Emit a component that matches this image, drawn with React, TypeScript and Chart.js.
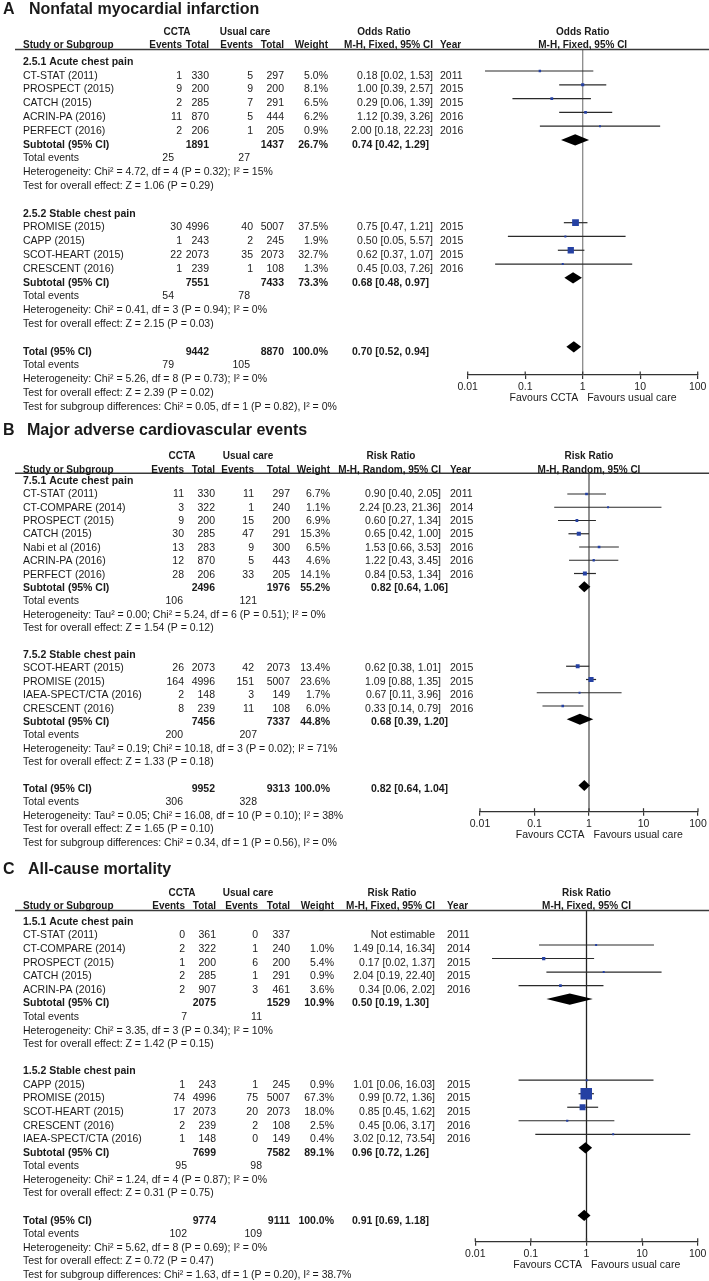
import React, { useEffect, useRef } from "react";
import { Chart, registerables } from "chart.js";
Chart.register(...registerables);

// ---------------- Panel A: Nonfatal myocardial infarction ----------------
const A_study = ["CT-STAT (2011)", "PROSPECT (2015)", "CATCH (2015)", "ACRIN-PA (2016)", "PERFECT (2016)", "PROMISE (2015)", "CAPP (2015)", "SCOT-HEART (2015)", "CRESCENT (2016)"];
const A_group = [0, 0, 0, 0, 0, 1, 1, 1, 1];
const A_ev1 = [1, 9, 2, 11, 2, 30, 1, 22, 1];
const A_tot1 = [330, 200, 285, 870, 206, 4996, 243, 2073, 239];
const A_ev2 = [5, 9, 7, 5, 1, 40, 2, 35, 1];
const A_tot2 = [297, 200, 291, 444, 205, 5007, 245, 2073, 108];
const A_weight = [5.0, 8.1, 6.5, 6.2, 0.9, 37.5, 1.9, 32.7, 1.3];
const A_est = [0.18, 1.0, 0.29, 1.12, 2.0, 0.75, 0.5, 0.62, 0.45];
const A_lo = [0.02, 0.39, 0.06, 0.39, 0.18, 0.47, 0.05, 0.37, 0.03];
const A_hi = [1.53, 2.57, 1.39, 3.26, 22.23, 1.21, 5.57, 1.07, 7.26];
const A_year = [2011, 2015, 2015, 2016, 2016, 2015, 2015, 2015, 2016];
const A_subgroup = ["2.5.1 Acute chest pain", "2.5.2 Stable chest pain"];
const A_subTot1 = [1891, 7551];
const A_subTot2 = [1437, 7433];
const A_subWeight = [26.7, 73.3];
const A_subEst = [0.74, 0.68];
const A_subLo = [0.42, 0.48];
const A_subHi = [1.29, 0.97];
const A_subEv1 = [25, 54];
const A_subEv2 = [27, 78];
const A_subHet = ["Heterogeneity: Chi² = 4.72, df = 4 (P = 0.32); I² = 15%", "Heterogeneity: Chi² = 0.41, df = 3 (P = 0.94); I² = 0%"];
const A_subZ = ["Test for overall effect: Z = 1.06 (P = 0.29)", "Test for overall effect: Z = 2.15 (P = 0.03)"];
const A_totN = [9442, 8870];
const A_totCI = [0.7, 0.52, 0.94];
const A_totEv = [79, 105];
const A_totNotes = ["Heterogeneity: Chi² = 5.26, df = 8 (P = 0.73); I² = 0%", "Test for overall effect: Z = 2.39 (P = 0.02)", "Test for subgroup differences: Chi² = 0.05, df = 1 (P = 0.82), I² = 0%"];

// ---------------- Panel B: Major adverse cardiovascular events ----------------
const B_study = ["CT-STAT (2011)", "CT-COMPARE (2014)", "PROSPECT (2015)", "CATCH (2015)", "Nabi et al (2016)", "ACRIN-PA (2016)", "PERFECT (2016)", "SCOT-HEART (2015)", "PROMISE (2015)", "IAEA-SPECT/CTA (2016)", "CRESCENT (2016)"];
const B_group = [0, 0, 0, 0, 0, 0, 0, 1, 1, 1, 1];
const B_ev1 = [11, 3, 9, 30, 13, 12, 28, 26, 164, 2, 8];
const B_tot1 = [330, 322, 200, 285, 283, 870, 206, 2073, 4996, 148, 239];
const B_ev2 = [11, 1, 15, 47, 9, 5, 33, 42, 151, 3, 11];
const B_tot2 = [297, 240, 200, 291, 300, 443, 205, 2073, 5007, 149, 108];
const B_weight = [6.7, 1.1, 6.9, 15.3, 6.5, 4.6, 14.1, 13.4, 23.6, 1.7, 6.0];
const B_est = [0.9, 2.24, 0.6, 0.65, 1.53, 1.22, 0.84, 0.62, 1.09, 0.67, 0.33];
const B_lo = [0.4, 0.23, 0.27, 0.42, 0.66, 0.43, 0.53, 0.38, 0.88, 0.11, 0.14];
const B_hi = [2.05, 21.36, 1.34, 1.0, 3.53, 3.45, 1.34, 1.01, 1.35, 3.96, 0.79];
const B_year = [2011, 2014, 2015, 2015, 2016, 2016, 2016, 2015, 2015, 2016, 2016];
const B_subgroup = ["7.5.1 Acute chest pain", "7.5.2 Stable chest pain"];
const B_subTot1 = [2496, 7456];
const B_subTot2 = [1976, 7337];
const B_subWeight = [55.2, 44.8];
const B_subEst = [0.82, 0.68];
const B_subLo = [0.64, 0.39];
const B_subHi = [1.06, 1.2];
const B_subEv1 = [106, 200];
const B_subEv2 = [121, 207];
const B_subHet = ["Heterogeneity: Tau² = 0.00; Chi² = 5.24, df = 6 (P = 0.51); I² = 0%", "Heterogeneity: Tau² = 0.19; Chi² = 10.18, df = 3 (P = 0.02); I² = 71%"];
const B_subZ = ["Test for overall effect: Z = 1.54 (P = 0.12)", "Test for overall effect: Z = 1.33 (P = 0.18)"];
const B_totN = [9952, 9313];
const B_totCI = [0.82, 0.64, 1.04];
const B_totEv = [306, 328];
const B_totNotes = ["Heterogeneity: Tau² = 0.05; Chi² = 16.08, df = 10 (P = 0.10); I² = 38%", "Test for overall effect: Z = 1.65 (P = 0.10)", "Test for subgroup differences: Chi² = 0.34, df = 1 (P = 0.56), I² = 0%"];

// ---------------- Panel C: All-cause mortality ----------------
const C_study = ["CT-STAT (2011)", "CT-COMPARE (2014)", "PROSPECT (2015)", "CATCH (2015)", "ACRIN-PA (2016)", "CAPP (2015)", "PROMISE (2015)", "SCOT-HEART (2015)", "CRESCENT (2016)", "IAEA-SPECT/CTA (2016)"];
const C_group = [0, 0, 0, 0, 0, 1, 1, 1, 1, 1];
const C_ev1 = [0, 2, 1, 2, 2, 1, 74, 17, 2, 1];
const C_tot1 = [361, 322, 200, 285, 907, 243, 4996, 2073, 239, 148];
const C_ev2 = [0, 1, 6, 1, 3, 1, 75, 20, 2, 0];
const C_tot2 = [337, 240, 200, 291, 461, 245, 5007, 2073, 108, 149];
const C_weight = [null, 1.0, 5.4, 0.9, 3.6, 0.9, 67.3, 18.0, 2.5, 0.4];
const C_est = [null, 1.49, 0.17, 2.04, 0.34, 1.01, 0.99, 0.85, 0.45, 3.02];
const C_lo = [null, 0.14, 0.02, 0.19, 0.06, 0.06, 0.72, 0.45, 0.06, 0.12];
const C_hi = [null, 16.34, 1.37, 22.4, 2.02, 16.03, 1.36, 1.62, 3.17, 73.54];
const C_year = [2011, 2014, 2015, 2015, 2016, 2015, 2015, 2015, 2016, 2016];
const C_subgroup = ["1.5.1 Acute chest pain", "1.5.2 Stable chest pain"];
const C_subTot1 = [2075, 7699];
const C_subTot2 = [1529, 7582];
const C_subWeight = [10.9, 89.1];
const C_subEst = [0.5, 0.96];
const C_subLo = [0.19, 0.72];
const C_subHi = [1.3, 1.26];
const C_subEv1 = [7, 95];
const C_subEv2 = [11, 98];
const C_subHet = ["Heterogeneity: Chi² = 3.35, df = 3 (P = 0.34); I² = 10%", "Heterogeneity: Chi² = 1.24, df = 4 (P = 0.87); I² = 0%"];
const C_subZ = ["Test for overall effect: Z = 1.42 (P = 0.15)", "Test for overall effect: Z = 0.31 (P = 0.75)"];
const C_totN = [9774, 9111];
const C_totCI = [0.91, 0.69, 1.18];
const C_totEv = [102, 109];
const C_totNotes = ["Heterogeneity: Chi² = 5.62, df = 8 (P = 0.69); I² = 0%", "Test for overall effect: Z = 0.72 (P = 0.47)", "Test for subgroup differences: Chi² = 1.63, df = 1 (P = 0.20), I² = 38.7%"];

const X_TICKS = [0.01, 0.1, 1, 10, 100];

// ---------------- layout / style (kept apart from data) ----------------
const FONT = '"Liberation Sans", Arial, Helvetica, sans-serif';
const TXT = "#1a1a1a";
const BLUE = "#2541a3";
const AXIS_H = 30;
const FS = 10.5;
const HFS = 10;

const LAYOUT_A = {
  top: 0, height: 422, letter: "A", title: "Nonfatal myocardial infarction", titleX: 29, titleY: 10,
  h1Y: 32, h2Y: 45.7, lineY: 49.5, t0: 62, ts: 13.8, m0: 57.2, ms: 13.79, axisY: 375,
  xL: 467.7, xR: 697.7, boxK: 1.1, refColor: "#8a8a8a",
  effect: "Odds Ratio", method: "M-H, Fixed, 95% CI",
  cols: { ev1: 182, tot1: 209, ev2: 253, tot2: 284, w: 328, ciR: 433, ciL: 352, yearL: 440, te1: 174, te2: 250, cctaC: 177, ucC: 245, effC: 384 },
};
const LAYOUT_B = {
  top: 422, height: 428, letter: "B", title: "Major adverse cardiovascular events", titleX: 27, titleY: 431,
  h1Y: 456, h2Y: 470, lineY: 473.3, t0: 481, ts: 13.4, m0: 480.75, ms: 13.25, axisY: 811.7,
  xL: 480, xR: 698, boxK: 1.05, refColor: "#555",
  effect: "Risk Ratio", method: "M-H, Random, 95% CI",
  cols: { ev1: 184, tot1: 215, ev2: 254, tot2: 290, w: 330, ciR: 441, ciL: 371, yearL: 450, te1: 183, te2: 257, cctaC: 182, ucC: 248, effC: 391 },
};
const LAYOUT_C = {
  top: 850, height: 431, letter: "C", title: "All-cause mortality", titleX: 28, titleY: 870,
  h1Y: 893.3, h2Y: 906.7, lineY: 910.5, t0: 922, ts: 13.58, m0: 917.96, ms: 13.52, axisY: 1241.7,
  xL: 475.3, xR: 697.7, boxK: 1.4, refColor: "#222",
  effect: "Risk Ratio", method: "M-H, Fixed, 95% CI",
  cols: { ev1: 185, tot1: 216, ev2: 258, tot2: 290, w: 334, ciR: 435, ciL: 352, yearL: 447, te1: 187, te2: 262, cctaC: 182, ucC: 248, effC: 392 },
};

const fmtCI = (e: number, l: number, h: number) => `${e.toFixed(2)} [${l.toFixed(2)}, ${h.toFixed(2)}]`;

function makeData(p: string) {
  const src: any = {
    A: { study: A_study, group: A_group, ev1: A_ev1, tot1: A_tot1, ev2: A_ev2, tot2: A_tot2, weight: A_weight, est: A_est, lo: A_lo, hi: A_hi, year: A_year, subgroup: A_subgroup, subTot1: A_subTot1, subTot2: A_subTot2, subWeight: A_subWeight, subEst: A_subEst, subLo: A_subLo, subHi: A_subHi, subEv1: A_subEv1, subEv2: A_subEv2, subHet: A_subHet, subZ: A_subZ, totN: A_totN, totCI: A_totCI, totEv: A_totEv, totNotes: A_totNotes },
    B: { study: B_study, group: B_group, ev1: B_ev1, tot1: B_tot1, ev2: B_ev2, tot2: B_tot2, weight: B_weight, est: B_est, lo: B_lo, hi: B_hi, year: B_year, subgroup: B_subgroup, subTot1: B_subTot1, subTot2: B_subTot2, subWeight: B_subWeight, subEst: B_subEst, subLo: B_subLo, subHi: B_subHi, subEv1: B_subEv1, subEv2: B_subEv2, subHet: B_subHet, subZ: B_subZ, totN: B_totN, totCI: B_totCI, totEv: B_totEv, totNotes: B_totNotes },
    C: { study: C_study, group: C_group, ev1: C_ev1, tot1: C_tot1, ev2: C_ev2, tot2: C_tot2, weight: C_weight, est: C_est, lo: C_lo, hi: C_hi, year: C_year, subgroup: C_subgroup, subTot1: C_subTot1, subTot2: C_subTot2, subWeight: C_subWeight, subEst: C_subEst, subLo: C_subLo, subHi: C_subHi, subEv1: C_subEv1, subEv2: C_subEv2, subHet: C_subHet, subZ: C_subZ, totN: C_totN, totCI: C_totCI, totEv: C_totEv, totNotes: C_totNotes },
  };
  return src[p];
}

function buildRows(d: any) {
  const items: any[] = [];
  let r = 0;
  for (let g = 0; g < d.subgroup.length; g++) {
    items.push({ kind: "heading", row: r++, text: d.subgroup[g] });
    d.study.forEach((_: string, i: number) => {
      if (d.group[i] === g) items.push({ kind: "study", row: r++, i });
    });
    items.push({ kind: "subtotal", row: r++, g });
    items.push({ kind: "events", row: r++, a: d.subEv1[g], b: d.subEv2[g] });
    items.push({ kind: "note", row: r++, text: d.subHet[g] });
    items.push({ kind: "note", row: r++, text: d.subZ[g] });
    r++;
  }
  items.push({ kind: "total", row: r++ });
  items.push({ kind: "events", row: r++, a: d.totEv[0], b: d.totEv[1] });
  d.totNotes.forEach((t: string) => items.push({ kind: "note", row: r++, text: t }));
  return items;
}

function Panel({ id, L }: { id: string; L: any }) {
  const ref = useRef<HTMLCanvasElement>(null);
  useEffect(() => {
    const canvas = ref.current as HTMLCanvasElement;
    const d = makeData(id);
    const items = buildRows(d);
    const c = L.cols;

    const pts: any[] = [];
    const radii: number[] = [];
    items.forEach((it) => {
      if (it.kind === "study" && d.est[it.i] != null) {
        pts.push({ x: d.est[it.i], y: it.row });
        const side = Math.max(2, L.boxK * Math.sqrt(d.weight[it.i]));
        radii.push(side / Math.SQRT2);
      }
    });

    const plugin = {
      id: "forest" + id,
      beforeDatasetsDraw(chart: any) {
        const { ctx, chartArea } = chart;
        const xs = chart.scales.x;
        const ys = chart.scales.y;
        ctx.save();
        const x1 = xs.getPixelForValue(1);
        ctx.strokeStyle = L.refColor;
        ctx.lineWidth = 1.3;
        ctx.beginPath();
        ctx.moveTo(x1, chartArea.top);
        ctx.lineTo(x1, chartArea.bottom);
        ctx.stroke();
        ctx.strokeStyle = "#2a2a2a";
        ctx.lineWidth = 1.2;
        items.forEach((it) => {
          if (it.kind !== "study" || d.est[it.i] == null) return;
          const y = ys.getPixelForValue(it.row);
          ctx.beginPath();
          ctx.moveTo(xs.getPixelForValue(d.lo[it.i]), y);
          ctx.lineTo(xs.getPixelForValue(d.hi[it.i]), y);
          ctx.stroke();
        });
        ctx.restore();
      },
      afterDatasetsDraw(chart: any) {
        const { ctx } = chart;
        const xs = chart.scales.x;
        const ys = chart.scales.y;
        const top = L.top;
        ctx.save();
        const diamond = (row: number, e: number, lo: number, hi: number) => {
          const y = ys.getPixelForValue(row);
          ctx.fillStyle = "#000";
          ctx.beginPath();
          ctx.moveTo(xs.getPixelForValue(lo), y);
          ctx.lineTo(xs.getPixelForValue(e), y - 5.6);
          ctx.lineTo(xs.getPixelForValue(hi), y);
          ctx.lineTo(xs.getPixelForValue(e), y + 5.6);
          ctx.closePath();
          ctx.fill();
        };
        items.forEach((it) => {
          if (it.kind === "subtotal") diamond(it.row, d.subEst[it.g], d.subLo[it.g], d.subHi[it.g]);
          if (it.kind === "total") diamond(it.row, d.totCI[0], d.totCI[1], d.totCI[2]);
        });
        ctx.strokeStyle = "#3a3a3a";
        ctx.lineWidth = 1.5;
        ctx.beginPath();
        ctx.moveTo(15, L.lineY - top);
        ctx.lineTo(709, L.lineY - top);
        ctx.stroke();
        ctx.strokeStyle = "#333";
        ctx.lineWidth = 1.2;
        X_TICKS.forEach((v) => {
          const xp = xs.getPixelForValue(v);
          ctx.beginPath();
          ctx.moveTo(xp, L.axisY - top - 3.5);
          ctx.lineTo(xp, L.axisY - top);
          ctx.stroke();
        });

        const txt = (s: string, x: number, yAbs: number, align: string, bold = false, size = FS) => {
          ctx.font = `${bold ? "bold " : ""}${size}px ${FONT}`;
          ctx.textAlign = align;
          ctx.textBaseline = "middle";
          ctx.fillStyle = TXT;
          ctx.fillText(s, x, yAbs - top);
        };
        txt(L.letter, 3, L.titleY, "left", true, 16);
        txt(L.title, L.titleX, L.titleY, "left", true, 16);
        const x1 = xs.getPixelForValue(1);
        txt("CCTA", c.cctaC, L.h1Y, "center", true, HFS);
        txt("Usual care", c.ucC, L.h1Y, "center", true, HFS);
        txt(L.effect, c.effC, L.h1Y, "center", true, HFS);
        txt(L.effect, x1, L.h1Y, "center", true, HFS);
        txt("Study or Subgroup", 23, L.h2Y, "left", true, HFS);
        txt("Events", c.ev1, L.h2Y, "right", true, HFS);
        txt("Total", c.tot1, L.h2Y, "right", true, HFS);
        txt("Events", c.ev2, L.h2Y, "right", true, HFS);
        txt("Total", c.tot2, L.h2Y, "right", true, HFS);
        txt("Weight", c.w, L.h2Y, "right", true, HFS);
        txt(L.method, c.ciR, L.h2Y, "right", true, HFS);
        txt("Year", c.yearL, L.h2Y, "left", true, HFS);
        txt(L.method, x1, L.h2Y, "center", true, HFS);
        items.forEach((it) => {
          const ty = L.t0 + it.row * L.ts;
          if (it.kind === "heading") txt(it.text, 23, ty, "left", true);
          else if (it.kind === "study") {
            const i = it.i;
            txt(d.study[i], 23, ty, "left");
            txt(String(d.ev1[i]), c.ev1, ty, "right");
            txt(String(d.tot1[i]), c.tot1, ty, "right");
            txt(String(d.ev2[i]), c.ev2, ty, "right");
            txt(String(d.tot2[i]), c.tot2, ty, "right");
            if (d.weight[i] != null) txt(d.weight[i].toFixed(1) + "%", c.w, ty, "right");
            txt(d.est[i] != null ? fmtCI(d.est[i], d.lo[i], d.hi[i]) : "Not estimable", c.ciR, ty, "right");
            txt(String(d.year[i]), c.yearL, ty, "left");
          } else if (it.kind === "subtotal") {
            const g = it.g;
            txt("Subtotal (95% CI)", 23, ty, "left", true);
            txt(String(d.subTot1[g]), c.tot1, ty, "right", true);
            txt(String(d.subTot2[g]), c.tot2, ty, "right", true);
            txt(d.subWeight[g].toFixed(1) + "%", c.w, ty, "right", true);
            txt(fmtCI(d.subEst[g], d.subLo[g], d.subHi[g]), c.ciL, ty, "left", true);
          } else if (it.kind === "total") {
            txt("Total (95% CI)", 23, ty, "left", true);
            txt(String(d.totN[0]), c.tot1, ty, "right", true);
            txt(String(d.totN[1]), c.tot2, ty, "right", true);
            txt("100.0%", c.w, ty, "right", true);
            txt(fmtCI(d.totCI[0], d.totCI[1], d.totCI[2]), c.ciL, ty, "left", true);
          } else if (it.kind === "events") {
            txt("Total events", 23, ty, "left");
            txt(String(it.a), c.te1, ty, "right");
            txt(String(it.b), c.te2, ty, "right");
          } else if (it.kind === "note") {
            txt(it.text, 23, ty, "left");
          }
        });
        txt("Favours CCTA", x1 - 4.5, L.axisY + 23, "right");
        txt("Favours usual care", x1 + 4.5, L.axisY + 23, "left");
        ctx.restore();
      },
    };

    const chart = new Chart(canvas, {
      type: "scatter",
      data: {
        datasets: [
          {
            data: pts,
            pointStyle: "rect",
            pointRadius: radii,
            pointHoverRadius: radii,
            backgroundColor: BLUE,
            borderColor: BLUE,
            borderWidth: 0,
          } as any,
        ],
      },
      options: {
        responsive: false,
        animation: false,
        devicePixelRatio: 1,
        events: [],
        layout: {
          padding: {
            left: L.xL,
            right: 709 - L.xR,
            top: L.lineY - L.top,
            bottom: L.height - (L.axisY - L.top) - AXIS_H,
          },
        },
        plugins: { legend: { display: false }, tooltip: { enabled: false } },
        scales: {
          x: {
            type: "logarithmic",
            min: 0.01,
            max: 100,
            position: "bottom",
            afterBuildTicks: (s: any) => {
              s.ticks = X_TICKS.map((v) => ({ value: v }));
            },
            afterFit: (s: any) => {
              s.height = AXIS_H;
            },
            ticks: {
              callback: (v: any) => String(v),
              font: { family: FONT, size: FS },
              color: "#222",
              padding: 2,
              maxRotation: 0,
              autoSkip: false,
            },
            grid: { drawOnChartArea: false, drawTicks: true, tickLength: 4, color: "#333", lineWidth: 1.2 },
            border: { display: true, color: "#333", width: 1.3 },
          },
          y: {
            type: "linear",
            display: false,
            reverse: true,
            min: (L.lineY - L.m0) / L.ms,
            max: (L.axisY - L.m0) / L.ms,
          },
        },
      } as any,
      plugins: [plugin as any],
    });
    return () => chart.destroy();
  }, [id, L]);
  return (
    <canvas
      ref={ref}
      width={709}
      height={L.height}
      style={{ position: "absolute", left: 0, top: L.top, width: 709, height: L.height }}
    />
  );
}

export default function App() {
  return (
    <div style={{ position: "absolute", left: 0, top: 0, width: 709, height: 1281, background: "#fff", overflow: "hidden" }}>
      <Panel id="A" L={LAYOUT_A} />
      <Panel id="B" L={LAYOUT_B} />
      <Panel id="C" L={LAYOUT_C} />
    </div>
  );
}
